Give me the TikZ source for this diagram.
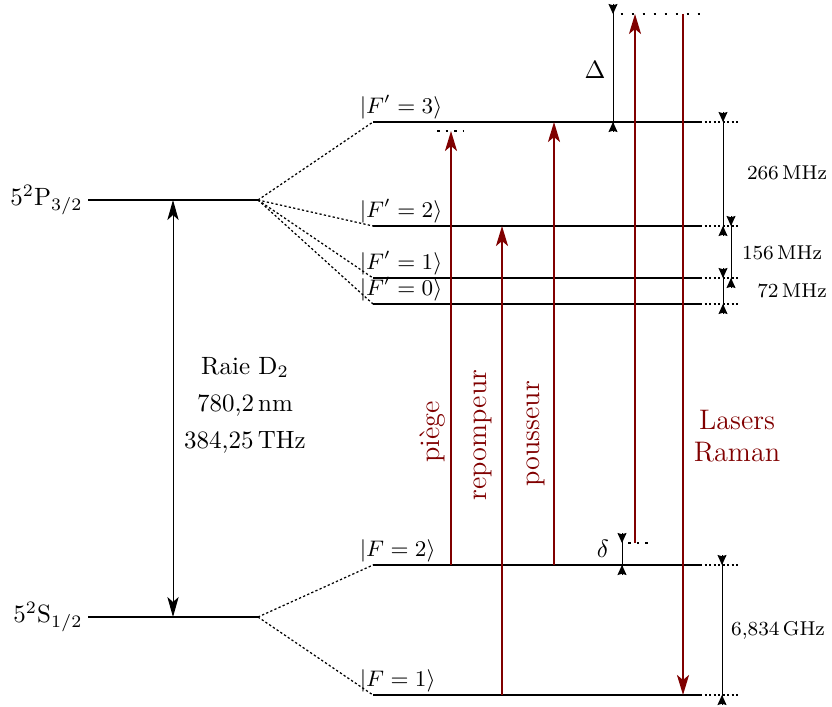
\documentclass[tikz,border=0pt]{standalone}
\usepackage{amsmath}
\usetikzlibrary{arrows.meta,calc}
\colorlet{raman}{red!50!black}

\begin{document}
\begin{tikzpicture}[x=0.4pt,y=-0.4pt,
  level/.style={line width=1.1pt},
  link/.style={line width=0.5pt,dash pattern=on 0.9pt off 0.9pt},
  ext/.style={line width=0.5pt,dash pattern=on 0.9pt off 0.9pt},
  laser/.style={line width=0.9pt,draw=raman,-{Stealth[length=8pt,width=4.8pt,inset=2pt]}},
  detune/.style={line width=1.1pt,dash pattern=on 1.1pt off 3.3pt},
  detunec/.style={line width=1.1pt,dash pattern=on 1.1pt off 2.3pt},
  cote/.style={thin},
  pointe/.style={-{Stealth[length=4pt,width=3.6pt,inset=0.5pt]}},
  ket/.style={font=\small,anchor=south west,inner sep=1pt},
  freq/.style={font=\footnotesize},
  nomlaser/.style={text=raman,font=\fontsize{11.3}{13}\selectfont},
]
\useasboundingbox (0,0) rectangle (832,706);

% niveaux fins
\coordinate (Pl) at (88,200); \coordinate (Pr) at (258,200);
\coordinate (Sl) at (88,617); \coordinate (Sr) at (258,617);
\draw[level] (Pl) -- (Pr);
\draw[level] (Sl) -- (Sr);
\node[anchor=east,inner sep=2pt] (Plbl) at (Pl) {$5^2\mathrm{P}_{3/2}$};
\node[anchor=east,inner sep=2pt] (Slbl) at (Sl) {$5^2\mathrm{S}_{1/2}$};

% raie D2
\draw[{Stealth[length=8pt,width=4.5pt,inset=2pt]}-{Stealth[length=8pt,width=4.5pt,inset=2pt]}]
  ($(Pl)!.5!(Pr)$) -- ($(Sl)!.5!(Sr)$);
\node[align=center] (raie) at (245,405) {Raie D$_2$\\[2.8pt] 780,2\,nm\\[2.8pt] 384,25\,THz};

% structure hyperfine
\foreach \n/\y in {3/122,2/226,1/278,0/304}{
  \coordinate (e\n l) at (373,\y);
  \coordinate (e\n r) at (700,\y);
  \draw[link] (Pr) -- (e\n l);
  \draw[level] (e\n l) -- (e\n r);
  \draw[ext] (e\n r) -- ++(40,0);
  \node[ket] at ([xshift=-6.5pt]e\n l) {$|F'=\n\rangle$};
}
\foreach \n/\y in {2/565,1/695}{
  \coordinate (g\n l) at (373,\y);
  \coordinate (g\n r) at (700,\y);
  \draw[link] (Sr) -- (g\n l);
  \draw[level] (g\n l) -- (g\n r);
  \draw[ext] (g\n r) -- ++(40,0);
  \node[ket] at ([xshift=-6.5pt]g\n l) {$|F=\n\rangle$};
}

% niveau virtuel
\coordinate (vh) at (613,14);
\coordinate (vhr) at (705,14);
\draw[detune] ([xshift=3pt]vh) -- (vhr);

% lasers
\coordinate (xpg) at (451,131);
\draw[laser] (xpg |- g2l) -- (xpg);
\draw[detunec] ([xshift=-5.6pt]xpg) -- ([xshift=5pt]xpg);
\coordinate (xrp) at (502,0);
\draw[laser] (xrp |- g1l) -- (xrp |- e2l);
\coordinate (xpo) at (554,0);
\draw[laser] (xpo |- g2l) -- (xpo |- e3l);
\coordinate (xr1) at (635,543);
\draw[laser] (xr1) -- (xr1 |- vh);
\draw[detunec] ([xshift=-2.8pt]xr1) -- ([xshift=5pt]xr1);
\coordinate (xr2) at (683,0);
\draw[laser] (xr2 |- vh) -- (xr2 |- g1l);

\node[nomlaser,rotate=90] (lpg) at (433,432) {piège};
\node[nomlaser,rotate=90] (lrp) at (483,435) {repompeur};
\node[nomlaser,rotate=90] (lpo) at (536,434) {pousseur};
\node[nomlaser,align=center] (lram) at (737,436) {Lasers\\Raman};

% cotes
\foreach \x/\ya/\yb [count=\i] in {613/14/122, 622/543/565, 723/122/226,
    731/226/278, 723/278/304, 722/565/695}{
  \coordinate (c\i a) at (\x,\ya);
  \coordinate (c\i b) at (\x,\yb);
  \draw[cote] ([yshift=4pt]c\i a) -- ([yshift=-4pt]c\i b);
  \draw[pointe] ([yshift=4pt]c\i a) -- (c\i a);
  \draw[pointe] ([yshift=-4pt]c\i b) -- (c\i b);
}
\node (Delta) at (595,70) {$\Delta$};
\node (delta) at (603,549) {$\delta$};
\node[freq] (f266) at (787,173) {266\,MHz};
\node[freq] (f156) at (782,253) {156\,MHz};
\node[freq] (f72) at (792,291) {72\,MHz};
\node[freq] (f6834) at (778,630) {6,834\,GHz};
\end{tikzpicture}
\end{document}
